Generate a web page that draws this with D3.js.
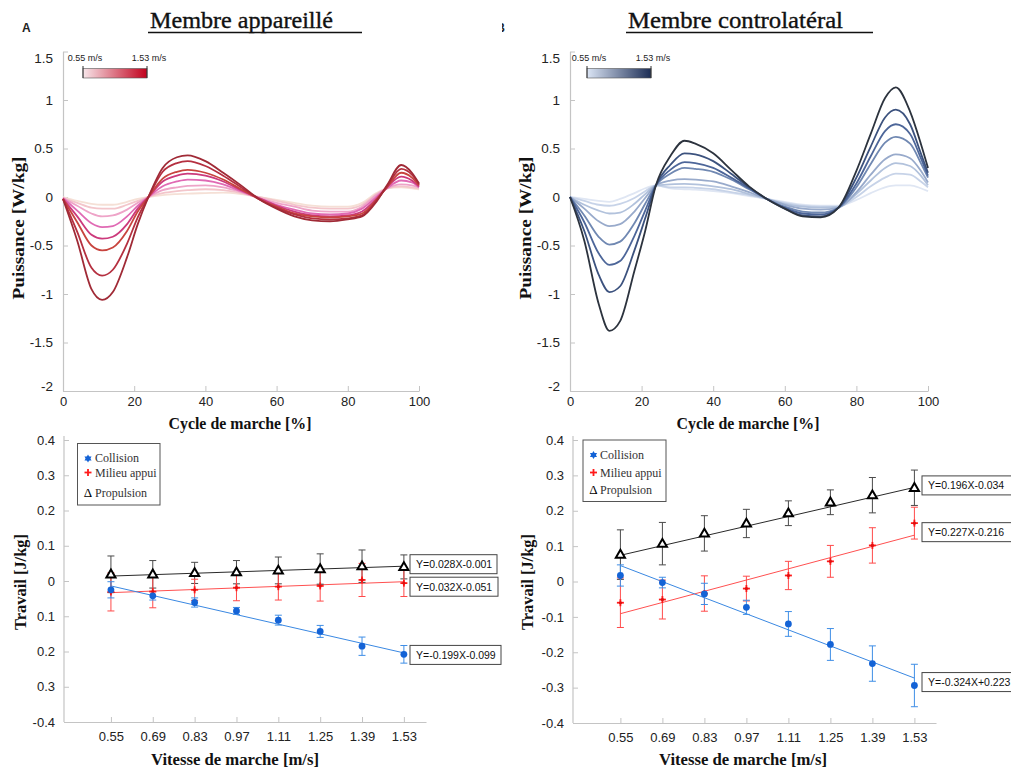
<!DOCTYPE html>
<html><head><meta charset="utf-8">
<script src="https://cdn.jsdelivr.net/npm/d3@7"></script>
<style>body{margin:0;background:#fff} svg{display:block}</style>
</head><body><svg id="c" width="1011" height="769"></svg>
<script>
// ---------- DATA ----------
const speeds = [0.55, 0.69, 0.83, 0.97, 1.11, 1.25, 1.39, 1.53];
const speedLabels = ["0.55", "0.69", "0.83", "0.97", "1.11", "1.25", "1.39", "1.53"];
const cycleX = [0,4,8,11,14,18,21,24,28,32,35,40,45,50,55,60,65,70,75,80,84,88,91,95,98,100];
const cycleTicks = [0,20,40,60,80,100];
const powerTicks = [1.5,1,0.5,0,-0.5,-1,-1.5,-2];
const powerTickLabels = ["1.5","1","0.5","0","-0.5","-1","-1.5","-2"];
const workTicks = [0.4,0.3,0.2,0.1,0,-0.1,-0.2,-0.3,-0.4];
const workTickLabelsApp = ["0.4","0.3","0.2","0.1","0","0.1","0.2","0.3","-0.4"];
const workTickLabelsCon = ["0.4","0.3","0.2","0.1","0","-0.1","-0.2","-0.3","-0.4"];

// Membre appareillé: power curves (W/kg), one per speed
const app055 = [0.0,-0.04,-0.07,-0.08,-0.08,-0.05,-0.02,0.0,0.02,0.03,0.035,0.04,0.045,0.03,0.0,-0.03,-0.06,-0.09,-0.1,-0.1,-0.06,0.04,0.09,0.1,0.09,0.08];
const app069 = [-0.01,-0.06,-0.11,-0.12,-0.12,-0.08,-0.04,0.0,0.04,0.06,0.07,0.08,0.07,0.04,0.0,-0.04,-0.08,-0.11,-0.12,-0.12,-0.08,0.03,0.09,0.11,0.1,0.09];
const app083 = [-0.01,-0.09,-0.17,-0.2,-0.19,-0.13,-0.06,0.0,0.07,0.1,0.115,0.12,0.1,0.05,-0.01,-0.06,-0.1,-0.14,-0.15,-0.15,-0.1,0.02,0.09,0.13,0.12,0.1];
const app097 = [-0.01,-0.14,-0.27,-0.31,-0.3,-0.2,-0.09,0.0,0.11,0.16,0.18,0.17,0.13,0.06,-0.01,-0.08,-0.13,-0.17,-0.18,-0.17,-0.12,0.0,0.09,0.17,0.15,0.1];
const app111 = [-0.02,-0.2,-0.39,-0.43,-0.41,-0.28,-0.12,0.0,0.16,0.22,0.24,0.22,0.16,0.07,-0.01,-0.09,-0.15,-0.19,-0.2,-0.19,-0.15,-0.02,0.1,0.21,0.17,0.11];
const app125 = [-0.02,-0.26,-0.5,-0.55,-0.52,-0.35,-0.15,0.0,0.19,0.26,0.28,0.25,0.18,0.08,-0.02,-0.1,-0.17,-0.2,-0.21,-0.2,-0.17,-0.03,0.1,0.25,0.2,0.12];
const app139 = [-0.02,-0.36,-0.73,-0.81,-0.75,-0.48,-0.21,0.0,0.26,0.35,0.37,0.32,0.22,0.1,-0.02,-0.11,-0.18,-0.22,-0.23,-0.22,-0.19,-0.04,0.11,0.29,0.23,0.13];
const app153 = [-0.02,-0.45,-0.95,-1.06,-0.98,-0.62,-0.28,0.0,0.3,0.41,0.43,0.37,0.25,0.12,-0.02,-0.12,-0.2,-0.24,-0.25,-0.23,-0.2,-0.05,0.12,0.33,0.25,0.14];

// Membre controlatéral: power curves (W/kg)
const con055 = [0.0,-0.02,-0.04,-0.05,-0.02,0.04,0.09,0.12,0.09,0.08,0.075,0.06,0.04,0.01,-0.02,-0.05,-0.08,-0.09,-0.09,-0.03,0.04,0.1,0.12,0.12,0.09,0.06];
const con069 = [0.0,-0.04,-0.08,-0.09,-0.07,-0.01,0.06,0.12,0.1,0.1,0.095,0.08,0.05,0.02,-0.02,-0.06,-0.09,-0.1,-0.1,0.0,0.11,0.2,0.24,0.23,0.16,0.1];
const con083 = [0.0,-0.08,-0.14,-0.17,-0.16,-0.07,0.03,0.12,0.13,0.135,0.13,0.11,0.08,0.03,-0.02,-0.07,-0.1,-0.11,-0.1,0.03,0.17,0.3,0.35,0.32,0.22,0.12];
const con097 = [0.0,-0.12,-0.25,-0.3,-0.28,-0.15,-0.01,0.12,0.17,0.185,0.18,0.16,0.11,0.05,-0.02,-0.08,-0.12,-0.13,-0.11,0.05,0.23,0.39,0.44,0.4,0.27,0.15];
const con111 = [0.0,-0.19,-0.41,-0.49,-0.46,-0.27,-0.07,0.12,0.24,0.3,0.29,0.26,0.18,0.08,-0.02,-0.1,-0.15,-0.16,-0.11,0.1,0.34,0.56,0.62,0.55,0.35,0.2];
const con125 = [0.0,-0.26,-0.58,-0.7,-0.66,-0.4,-0.14,0.12,0.28,0.36,0.35,0.3,0.2,0.09,-0.02,-0.11,-0.17,-0.18,-0.11,0.14,0.42,0.68,0.75,0.65,0.4,0.22];
const con139 = [0.0,-0.35,-0.8,-0.98,-0.92,-0.55,-0.22,0.12,0.33,0.45,0.44,0.37,0.24,0.1,-0.02,-0.12,-0.19,-0.2,-0.11,0.2,0.52,0.82,0.9,0.75,0.45,0.25];
const con153 = [0.0,-0.45,-1.1,-1.38,-1.28,-0.76,-0.35,0.12,0.42,0.58,0.55,0.45,0.28,0.11,-0.02,-0.12,-0.2,-0.21,-0.11,0.27,0.65,1.02,1.13,0.88,0.55,0.3];

// Work (J/kg) vs speed, Membre appareillé
const colApp = [-0.025,-0.042,-0.061,-0.085,-0.111,-0.143,-0.185,-0.208];
const colAppErr = [0.023,0.012,0.013,0.010,0.014,0.017,0.026,0.025];
const midApp = [-0.031,-0.030,-0.025,-0.019,-0.016,-0.014,0.003,-0.006];
const midAppErr = [0.054,0.046,0.030,0.037,0.038,0.043,0.047,0.038];
const propApp = [0.019,0.019,0.023,0.025,0.030,0.034,0.042,0.040];
const propAppErr = [0.052,0.039,0.030,0.033,0.038,0.043,0.046,0.034];
const fitApp = { col: [-0.014,-0.204], mid: [-0.033,-0.002], prop: [0.014,0.042] };
const eqApp = ["Y=0.028X-0.001", "Y=0.032X-0.051", "Y=-0.199X-0.099"];

// Work (J/kg) vs speed, Membre controlatéral
const colCon = [0.017,-0.003,-0.035,-0.073,-0.120,-0.178,-0.232,-0.294];
const colConErr = [0.030,0.015,0.030,0.020,0.035,0.045,0.050,0.060];
const midCon = [-0.060,-0.051,-0.034,-0.020,0.017,0.057,0.102,0.165];
const midConErr = [0.070,0.055,0.050,0.035,0.040,0.045,0.050,0.045];
const propCon = [0.076,0.107,0.136,0.164,0.193,0.224,0.244,0.265];
const propConErr = [0.070,0.060,0.050,0.040,0.035,0.035,0.050,0.050];
const fitCon = { col: [0.045,-0.273], mid: [-0.091,0.131], prop: [0.074,0.266] };
const eqCon = ["Y=0.196X-0.034", "Y=0.227X-0.216", "Y=-0.324X+0.223"];

const legendNames = ["Collision", "Milieu appui", "Propulsion"];

// ---------- STYLE ----------
const redColors = ["#f5e0d6","#f3c6cb","#eea4c8","#e06ab4","#cc3a7c","#c8443e","#b53040","#a02a36"];
const blueColors = ["#dfe6f3","#c7d3e8","#b2c2dc","#98aacb","#7088b2","#4d6699","#3c527e","#2c333e"];
const SANS = "'Liberation Sans', Arial, Helvetica, sans-serif";
const SERIF = "'Liberation Serif', 'DejaVu Serif', serif";
const AXC = "#c4c4c4";

const svg = d3.select("#c");
const defs = svg.append("defs");

function grad(id, c0, c1) {
  const g = defs.append("linearGradient").attr("id", id);
  g.append("stop").attr("offset", "0%").attr("stop-color", c0);
  g.append("stop").attr("offset", "100%").attr("stop-color", c1);
}
grad("gRed", "#f7e6ea", "#c1001c");
grad("gBlue", "#dbe5f5", "#1c2d55");

function styleAxis(g, fs) {
  g.select(".domain").attr("stroke", AXC).attr("stroke-width", 1.2);
  g.selectAll(".tick line").attr("stroke", AXC);
  g.selectAll(".tick text").attr("fill", "#222").attr("font-family", SANS).attr("font-size", fs);
}

// ---------- TOP PANELS ----------
function powerPanel(x0, x1, curves, colors, gradId, legX, title, titleX, titleW, ulEnd, ylabX) {
  const x = d3.scaleLinear().domain([0, 100]).range([x0, x1]);
  const y = d3.scaleLinear().domain([-2, 1.5]).range([391, 51.5]);
  const g = svg.append("g");
  const ya = g.append("g").attr("transform", `translate(${x0},0)`)
    .call(d3.axisLeft(y).tickValues(powerTicks).tickFormat((d, i) => powerTickLabels[i]).tickSize(-5).tickSizeOuter(0).tickPadding(10));
  styleAxis(ya, 13.5);
  ya.selectAll(".tick text").attr("dy", d => d === 1.5 ? "0.85em" : d === -2 ? "-0.05em" : "0.32em");
  const xa = g.append("g").attr("transform", `translate(0,391)`)
    .call(d3.axisBottom(x).tickValues(cycleTicks).tickSize(-5).tickSizeOuter(0).tickPadding(6));
  styleAxis(xa, 13);

  const line = d3.line().x((d, i) => x(cycleX[i])).y(d => y(d)).curve(d3.curveMonotoneX);
  g.selectAll("path.curve").data(curves).enter().append("path").attr("class", "curve")
    .attr("d", line).attr("fill", "none")
    .attr("stroke", (d, i) => colors[i]).attr("stroke-width", 1.8);

  // colour bar legend
  const lg = g.append("g");
  lg.append("rect").attr("x", legX).attr("y", 68.5).attr("width", 64).attr("height", 9.5)
    .attr("fill", `url(#${gradId})`).attr("stroke", "#555").attr("stroke-width", 0.6);
  [legX, legX + 64].forEach((lx, i) => {
    lg.append("line").attr("x1", lx).attr("x2", lx).attr("y1", 66).attr("y2", 78).attr("stroke", "#333").attr("stroke-width", 1);
    lg.append("text").attr("x", lx + 2).attr("y", 60.5).attr("text-anchor", "middle")
      .attr("font-family", SANS).attr("font-size", 9).attr("fill", "#222").text(speedLabels[i === 0 ? 0 : 7] + " m/s");
  });

  // title
  svg.append("text").attr("x", titleX).attr("y", 28).attr("font-family", SERIF).attr("font-size", 23)
    .attr("textLength", titleW).attr("lengthAdjust", "spacingAndGlyphs").attr("fill", "#111")
    .attr("stroke", "#111").attr("stroke-width", 0.35).text(title);
  svg.append("line").attr("x1", titleX - 2).attr("x2", ulEnd).attr("y1", 32.5).attr("y2", 32.5)
    .attr("stroke", "#111").attr("stroke-width", 1.4);

  // axis labels
  svg.append("text").attr("x", (x0 + x1) / 2 - 1).attr("y", 429).attr("text-anchor", "middle")
    .attr("font-family", SERIF).attr("font-size", 16.5).attr("font-weight", "bold")
    .attr("textLength", 143).attr("lengthAdjust", "spacingAndGlyphs").attr("fill", "#111").text("Cycle de marche [%]");
  svg.append("text").attr("transform", `translate(${ylabX},228) rotate(-90)`).attr("text-anchor", "middle")
    .attr("font-family", SERIF).attr("font-size", 16.5).attr("font-weight", "bold")
    .attr("textLength", 143).attr("lengthAdjust", "spacingAndGlyphs").attr("fill", "#111").text("Puissance [W/kg]");
}

powerPanel(63, 419, [app055, app069, app083, app097, app111, app125, app139, app153], redColors, "gRed", 83,
  "Membre appareillé", 150, 183, 362, 24);
powerPanel(570, 928, [con055, con069, con083, con097, con111, con125, con139, con153], blueColors, "gBlue", 587,
  "Membre controlatéral", 628, 215, 873, 531);

// panel letters
svg.append("text").attr("x", 22).attr("y", 32).attr("font-family", SANS).attr("font-weight", "bold")
  .attr("font-size", 12).attr("fill", "#222").text("A");
defs.append("clipPath").attr("id", "clipB").append("rect").attr("x", 502).attr("y", 15).attr("width", 3).attr("height", 20);
svg.append("text").attr("x", 505).attr("y", 32).attr("text-anchor", "end").attr("font-family", SANS).attr("font-weight", "bold")
  .attr("font-size", 12).attr("fill", "#222").attr("clip-path", "url(#clipB)").text("B");

// ---------- BOTTOM PANELS ----------
function drawPlus(g, cx, cy, r, color, w) {
  g.append("line").attr("x1", cx - r).attr("x2", cx + r).attr("y1", cy).attr("y2", cy).attr("stroke", color).attr("stroke-width", w);
  g.append("line").attr("x1", cx).attr("x2", cx).attr("y1", cy - r).attr("y2", cy + r).attr("stroke", color).attr("stroke-width", w);
}

function workPanel(opt) {
  const x = d3.scaleLinear().domain(opt.xdom).range([opt.x0, opt.x1]);
  const y = d3.scaleLinear().domain([-0.4, 0.4]).range([opt.yb, 440]);
  const g = svg.append("g");
  const ya = g.append("g").attr("transform", `translate(${opt.x0},0)`)
    .call(d3.axisLeft(y).tickValues(workTicks).tickFormat((d, i) => opt.ylabels[i]).tickSize(-5).tickSizeOuter(0).tickPadding(9));
  styleAxis(ya, 13);
  ya.select(".domain").attr("d", `M0,${opt.yb}V436`);
  const xa = g.append("g").attr("transform", `translate(0,${opt.yb})`)
    .call(d3.axisBottom(x).tickValues(speeds).tickFormat((d, i) => speedLabels[i]).tickSize(-5).tickSizeOuter(0).tickPadding(10));
  styleAxis(xa, 13);

  const series = [
    { v: opt.prop, e: opt.propErr, fit: opt.fit.prop, line: "#2a2a2a", bar: "#4a4a4a", kind: "tri" },
    { v: opt.mid, e: opt.midErr, fit: opt.fit.mid, line: "#ff5050", bar: "#ff4a4a", kind: "plus" },
    { v: opt.col, e: opt.colErr, fit: opt.fit.col, line: "#3a88e2", bar: "#3f8ee6", kind: "dot" }
  ];
  series.forEach(s => {
    g.append("line").attr("x1", x(speeds[0])).attr("x2", x(speeds[7]))
      .attr("y1", y(s.fit[0])).attr("y2", y(s.fit[1])).attr("stroke", s.line).attr("stroke-width", 1);
  });
  series.forEach(s => {
    s.v.forEach((v, i) => {
      const cx = x(speeds[i]);
      const t = y(v + s.e[i]), b = y(v - s.e[i]);
      g.append("line").attr("x1", cx).attr("x2", cx).attr("y1", t).attr("y2", b).attr("stroke", s.bar).attr("stroke-width", 1);
      [t, b].forEach(yy => g.append("line").attr("x1", cx - 3.5).attr("x2", cx + 3.5).attr("y1", yy).attr("y2", yy)
        .attr("stroke", s.bar).attr("stroke-width", 1));
    });
  });
  series.forEach(s => {
    s.v.forEach((v, i) => {
      const cx = x(speeds[i]), cy = y(v);
      if (s.kind === "dot") {
        g.append("circle").attr("cx", cx).attr("cy", cy).attr("r", 3.4).attr("fill", "#1463d6");
      } else if (s.kind === "plus") {
        drawPlus(g, cx, cy, 3.5, "#ff1a1a", 1.8);
        g.append("circle").attr("cx", cx).attr("cy", cy).attr("r", 1.6).attr("fill", "#e01010");
      } else {
        g.append("path").attr("d", d3.symbol(d3.symbolTriangle, 36)()).attr("transform", `translate(${cx},${cy + 0.5})`)
          .attr("fill", "#fff").attr("stroke", "#000").attr("stroke-width", 2);
      }
    });
  });
  const fitEnds = [opt.fit.prop[1], opt.fit.mid[1], opt.fit.col[1]];
  opt.eqs.forEach((t, i) => {
    const cy = y(fitEnds[i]) + opt.eqDy[i];
    g.append("rect").attr("x", opt.eqX).attr("y", cy - 9.5).attr("width", opt.eqW[i]).attr("height", 19)
      .attr("fill", "#fff").attr("stroke", "#444").attr("stroke-width", 1);
    g.append("text").attr("x", opt.eqX + 6).attr("y", cy + 4).attr("font-family", SANS).attr("font-size", 10.5)
      .attr("fill", "#111").text(t);
  });
  const L = opt.leg;
  g.append("rect").attr("x", L.x).attr("y", L.y).attr("width", L.w).attr("height", L.h)
    .attr("fill", "#fff").attr("stroke", "#555").attr("stroke-width", 1);
  legendNames.forEach((n, i) => {
    const cy = L.y + L.dy[i];
    if (i === 0) {
      g.append("path").attr("d", d3.symbol(d3.symbolTriangle, 22)()).attr("transform", `translate(${L.mx},${cy - 3.5})`).attr("fill", "#1463d6");
      g.append("path").attr("d", d3.symbol(d3.symbolTriangle, 22)()).attr("transform", `translate(${L.mx},${cy - 3.5}) rotate(180)`).attr("fill", "#1463d6");
    } else if (i === 1) {
      drawPlus(g, L.mx, cy - 4, 3.5, "#ff1a1a", 1.8);
    } else {
      g.append("text").attr("x", L.mx).attr("y", cy).attr("text-anchor", "middle").attr("font-family", SERIF)
        .attr("font-size", 13).attr("fill", "#000").text("Δ");
    }
    g.append("text").attr("x", L.tx).attr("y", cy).attr("font-family", SERIF).attr("font-size", 12)
      .attr("fill", "#333").text(n);
  });
  svg.append("text").attr("x", opt.xlabX).attr("y", 765).attr("text-anchor", "middle")
    .attr("font-family", SERIF).attr("font-size", 16).attr("font-weight", "bold")
    .attr("textLength", 168).attr("lengthAdjust", "spacingAndGlyphs").attr("fill", "#111").text("Vitesse de marche [m/s]");
  svg.append("text").attr("transform", `translate(${opt.ylabX},582) rotate(-90)`).attr("text-anchor", "middle")
    .attr("font-family", SERIF).attr("font-size", 16).attr("font-weight", "bold")
    .attr("textLength", 96).attr("lengthAdjust", "spacingAndGlyphs").attr("fill", "#111").text("Travail [J/kg]");
}

workPanel({
  x0: 64, x1: 426, xdom: [0.393, 1.604], yb: 722, ylabels: workTickLabelsApp,
  col: colApp, colErr: colAppErr, mid: midApp, midErr: midAppErr, prop: propApp, propErr: propAppErr,
  fit: fitApp, eqs: eqApp, eqX: 410, eqW: [87, 88, 91], eqDy: [-2, 5, 2],
  leg: { x: 77.5, y: 443.5, w: 82.5, h: 61.5, dy: [18.5, 33, 53], mx: 88, tx: 95 },
  xlabX: 235, ylabX: 26
});
workPanel({
  x0: 573, x1: 936, xdom: [0.392, 1.602], yb: 723, ylabels: workTickLabelsCon,
  col: colCon, colErr: colConErr, mid: midCon, midErr: midConErr, prop: propCon, propErr: propConErr,
  fit: fitCon, eqs: eqCon, eqX: 922, eqW: [90, 90, 90], eqDy: [-2, -3, 4],
  leg: { x: 583, y: 440, w: 83, h: 61.5, dy: [18.5, 36.5, 54], mx: 593.5, tx: 600 },
  xlabX: 743, ylabX: 533
});
</script></body></html>
